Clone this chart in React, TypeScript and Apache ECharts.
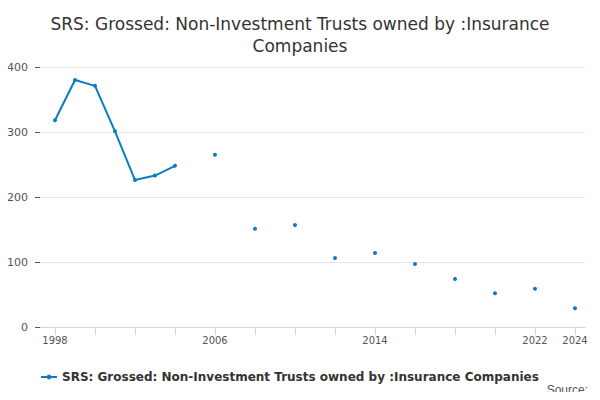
import React, { useEffect, useRef } from "react";
import * as echarts from "echarts";

const years = [1998, 1999, 2000, 2001, 2002, 2003, 2004, 2006, 2008, 2010, 2012, 2014, 2016, 2018, 2020, 2022, 2024];
const values = [318, 380, 371, 301, 226, 233, 248, 265, 151, 157, 106, 114, 97, 74, 52, 59, 29];
const tickYears = [1998, 2000, 2002, 2004, 2006, 2008, 2010, 2012, 2014, 2016, 2018, 2020, 2022, 2024];
const shownLabels = [1998, 2006, 2014, 2022, 2024];
const seriesName = "SRS: Grossed: Non-Investment Trusts owned by :Insurance Companies";

const App = () => {
  const ref = useRef<HTMLDivElement>(null);

  useEffect(() => {
    if (!ref.current) return;
    const chart = echarts.init(ref.current, undefined, { renderer: "svg" });
    // break the line where a year is missing
    const data: (number[] | null)[] = [];
    years.forEach((y, i) => {
      if (i > 0 && y - years[i - 1] > 1) data.push(null);
      data.push([y, values[i]]);
    });
    chart.setOption({
      animation: false,
      textStyle: { fontFamily: "DejaVu Sans" },
      title: {
        text: "SRS: Grossed: Non-Investment Trusts owned by :Insurance\nCompanies",
        left: "center",
        top: 8,
        textStyle: { fontSize: 17, fontWeight: "normal", color: "#333", lineHeight: 22 },
      },
      grid: { left: 40, right: 15, top: 67, height: 260 },
      xAxis: {
        type: "value",
        min: 1997.25,
        max: 2024.5,
        axisLine: { lineStyle: { color: "#ccd6eb" } },
        axisTick: { show: true, length: 8, customValues: tickYears, lineStyle: { color: "#ccd6eb" } },
        splitLine: { show: false },
        axisLabel: {
          color: "#555",
          fontSize: 10,
          customValues: shownLabels,
          formatter: (v: number) => String(v),
        },
      },
      yAxis: {
        type: "value",
        min: 0,
        max: 400,
        interval: 100,
        axisLine: { show: false },
        axisLabel: { color: "#555", fontSize: 11, margin: 12 },
        splitLine: { lineStyle: { color: "#e6e6e6" } },
      },
      legend: {
        left: 35,
        top: 366,
        itemWidth: 16,
        itemHeight: 6,
        textStyle: { fontSize: 12, color: "#333", fontWeight: "bold" },
        data: [seriesName],
      },
      graphic: [
        { type: "text", right: 12, top: 384, style: { text: "Source:", fontSize: 12, fill: "#555" } },
      ],
      series: [
        {
          name: seriesName,
          type: "line",
          data,
          connectNulls: false,
          showSymbol: true,
          symbol: "circle",
          symbolSize: 4,
          color: "#0a7dc2",
          lineStyle: { width: 2 },
        },
      ],
    });
    return () => chart.dispose();
  }, []);

  return <div ref={ref} style={{ width: 600, height: 400, margin: -8 }} />;
};

export default App;
